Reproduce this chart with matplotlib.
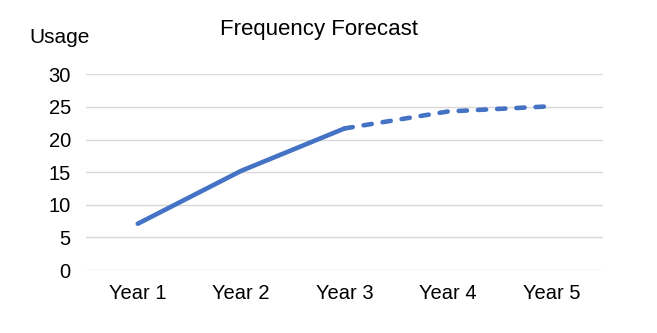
import matplotlib
matplotlib.use("Agg")
from matplotlib import pyplot as plt

plt.rcParams['font.family'] = ['Liberation Sans', 'DejaVu Sans']

years = ['Year 1', 'Year 2', 'Year 3', 'Year 4', 'Year 5']
actual = [7.1, 15.2, 21.7]
forecast = [21.7, 24.3, 25.1]

blue = '#4472C4'

fig = plt.figure(figsize=(6.57, 3.33), dpi=100)
ax = fig.add_axes([0.131, 0.189, 0.787, 0.588])

x = list(range(len(years)))
ax.plot(x[:3], actual, color=blue, lw=3.3, solid_capstyle='round', solid_joinstyle='round')
ax.plot(x[2:], forecast, color=blue, lw=3.3, linestyle=(0, (1.8, 2.4)), dash_capstyle='round')

ax.set_xlim(-0.5, 4.5)
ax.set_ylim(0, 30)
ax.set_yticks(range(0, 31, 5))
ax.set_xticks(x)
ax.set_xticklabels(years)
ax.grid(axis='y', color='#D9D9D9', lw=1)
ax.set_axisbelow(True)
for s in ax.spines.values():
    s.set_visible(False)
ax.tick_params(length=0, labelsize=14.5, colors='black')
ax.tick_params(axis='y', pad=11)
ax.tick_params(axis='x', pad=10)

fig.text(0.485, 0.91, 'Frequency Forecast', ha='center', va='center', fontsize=16)
fig.text(0.045, 0.888, 'Usage', ha='left', va='center', fontsize=15)

fig.savefig('out.png', dpi=100)
